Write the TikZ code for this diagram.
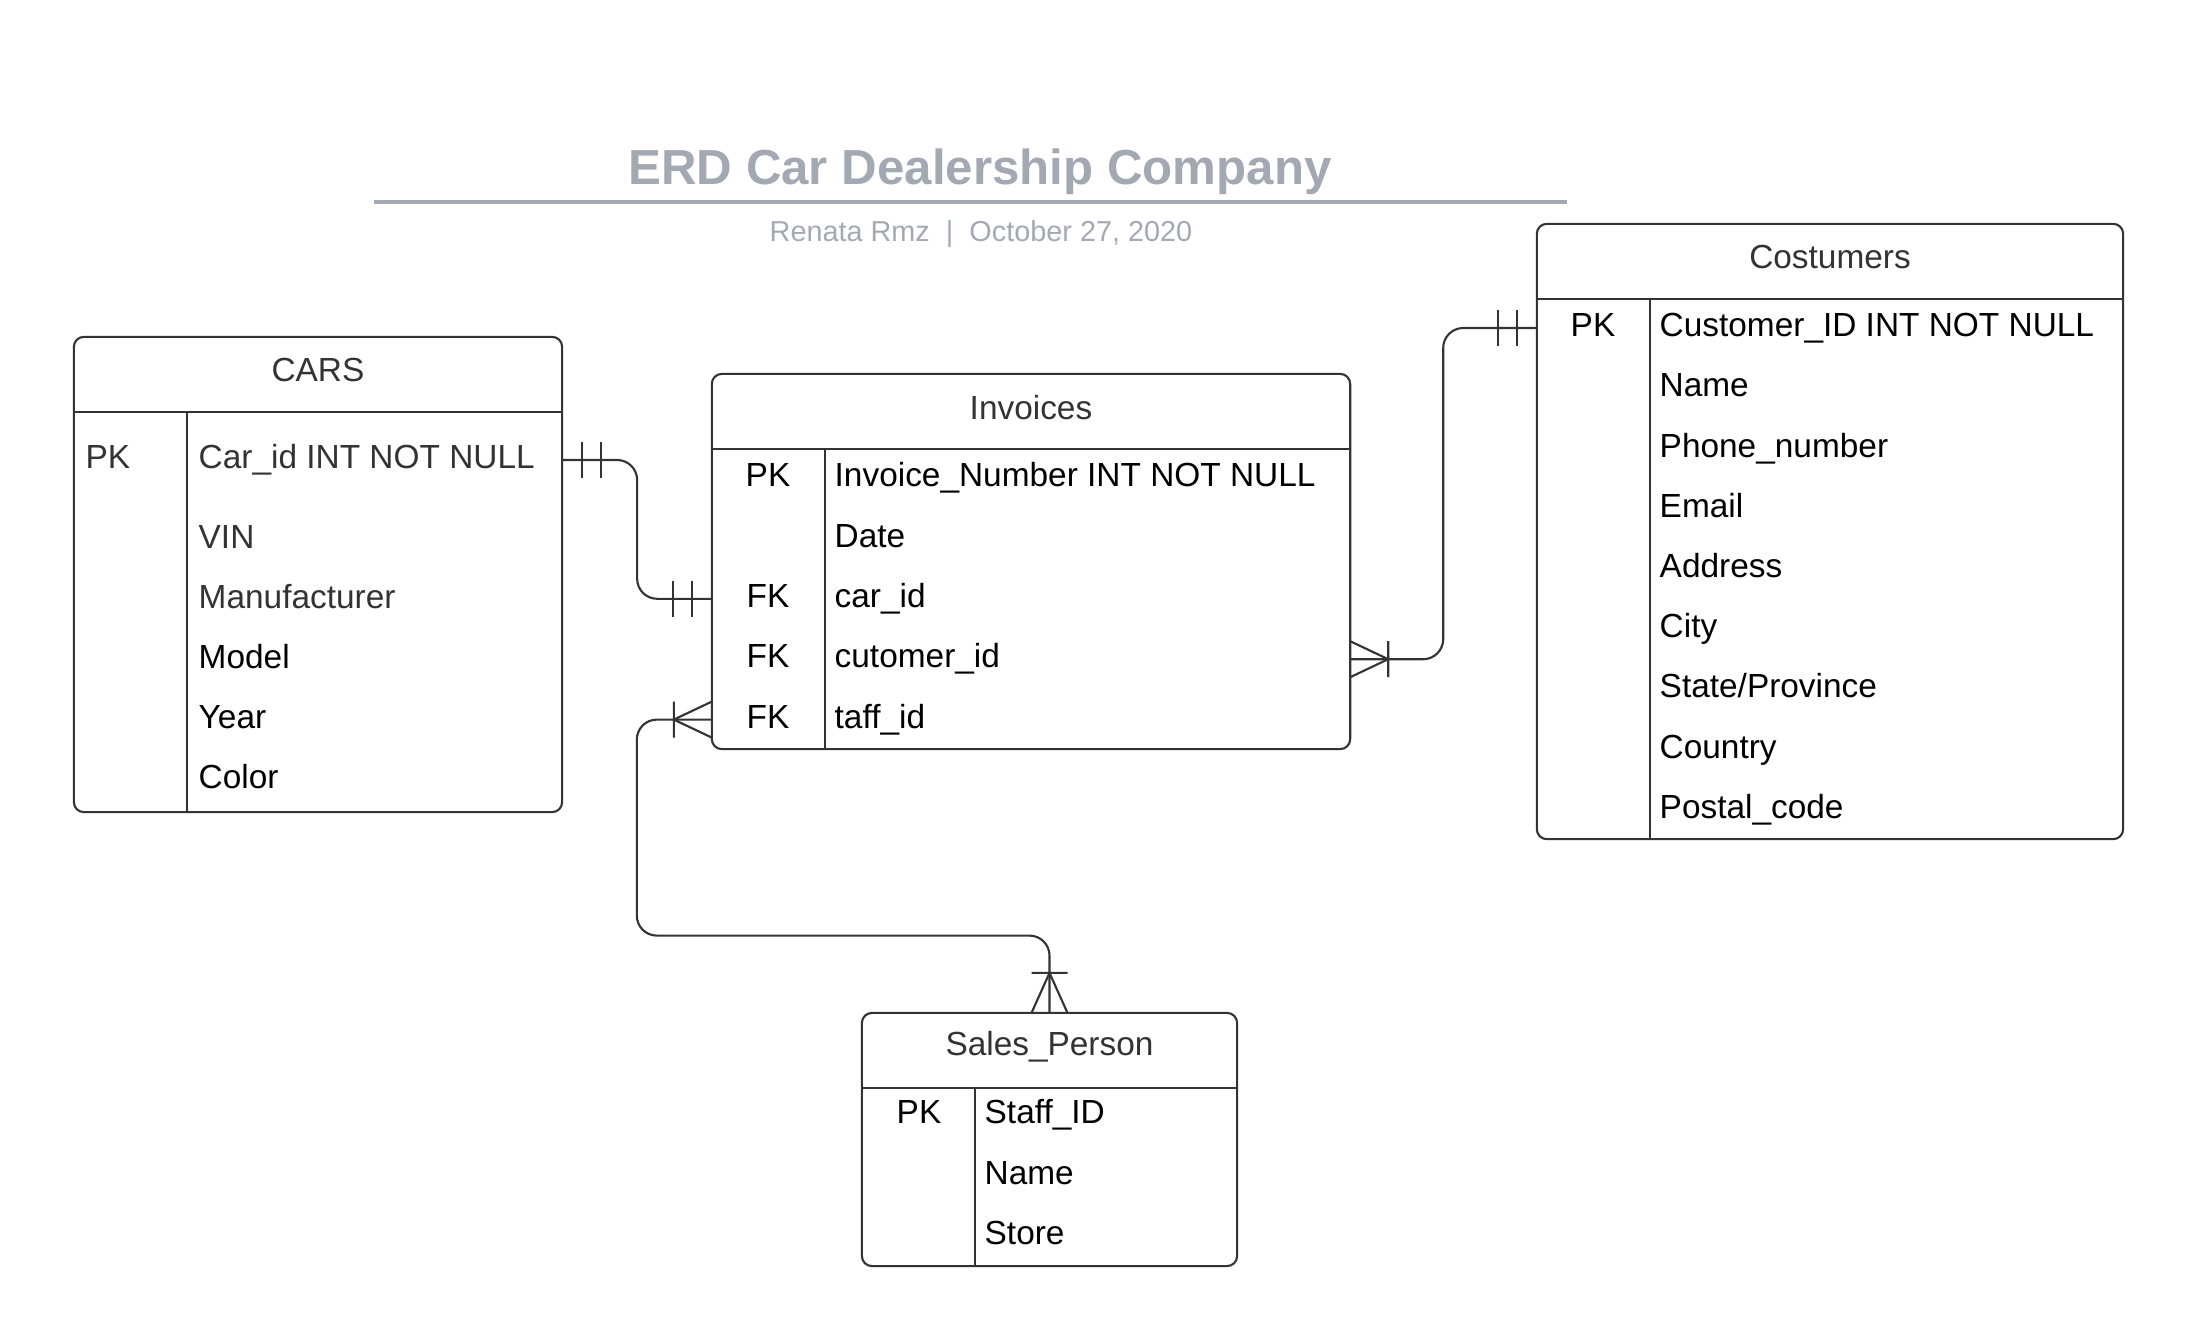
\documentclass[tikz,border=0pt]{standalone}
\usepackage{fontspec}
\setmainfont{Liberation Sans}
\usepackage{xcolor}
\usepackage{tikz}

\definecolor{titlegray}{HTML}{A3A9B3}
\definecolor{linegray}{HTML}{333333}
\definecolor{textgray}{HTML}{333333}

% header line and key column of a table
\newcommand{\tableframe}[1]{%
    \draw[tick] ([yshift=-0.75cm]#1.north west) -- ([yshift=-0.75cm]#1.north east);
    \draw[tick] ([xshift=1.13cm,yshift=-0.75cm]#1.north west) -- ([xshift=1.13cm]#1.south west);}
% one and only one (#2 = side, 1 or -1)
\newcommand{\onlyone}[2]{%
    \draw[tick] ([shift={(#2*20,-18)}]#1) -- ([shift={(#2*20,18)}]#1)
                ([shift={(#2*39,-18)}]#1) -- ([shift={(#2*39,18)}]#1);}
% one or many (#2 = side, 1 or -1)
\newcommand{\onemany}[2]{%
    \draw[tick] ([shift={(0,-18)}]#1) -- ([shift={(#2*38,0)}]#1) -- ([shift={(0,18)}]#1)
                ([shift={(#2*38,-18)}]#1) -- ([shift={(#2*38,18)}]#1);}

\begin{document}
\begin{tikzpicture}[x=0.01cm,y=-0.01cm]
        \useasboundingbox (0,0) rectangle (2199,1318);

        \tikzstyle{table}=[draw=linegray,line width=0.6pt,rounded corners=0.1cm,inner sep=0pt,outer sep=0pt]
        \tikzstyle{tabletitle}=[text=textgray,inner sep=0pt,font=\fontsize{9.5}{11}\selectfont]
        \tikzstyle{field}=[anchor=west,inner sep=0pt,text height=7pt,text depth=2pt,font=\fontsize{9.5}{11}\selectfont]
        \tikzstyle{keyfield}=[field,anchor=center]
        \tikzstyle{rel}=[draw=linegray,line width=0.6pt,rounded corners=0.2cm]
        \tikzstyle{tick}=[draw=linegray,line width=0.6pt]

        %% Title
        \node[text=titlegray,font=\bfseries\fontsize{14}{17}\selectfont] (title) at (980,172) {ERD Car Dealership Company};
        \draw[titlegray,line width=1.1pt] (374,202) -- (1567,202);
        \node[text=titlegray,font=\fontsize{8.2}{10}\selectfont] (subtitle) at (981,234) {Renata Rmz\ \ |\ \ October 27, 2020};

        %% CARS
        \node[table,minimum width=4.88cm,minimum height=4.75cm] (cars) at (318,574.5) {};
        \tableframe{cars}
        \node[tabletitle] (cars-title) at ([yshift=-0.335cm]cars.north) {CARS};
        \node[field,text=textgray] (cars-pk) at (85,460) {PK};
        \node[field,text=textgray] (cars-id) at (198,460) {Car\_id INT NOT NULL};
        \foreach \f/\c [count=\i] in {VIN/textgray,Manufacturer/textgray,Model/black,Year/black,Color/black}
            \node[field,text=\c] (cars-\i) at (198,{540+60*(\i-1)}) {\f};

        %% Invoices
        \node[table,minimum width=6.38cm,minimum height=3.75cm] (inv) at (1031,561.5) {};
        \tableframe{inv}
        \node[tabletitle] (inv-title) at ([yshift=-0.335cm]inv.north) {Invoices};
        \foreach \f [count=\i] in {Invoice\_Number INT NOT NULL,Date,car\_id,cutomer\_id,taff\_id}
            \node[field] (inv-\i) at (834,{478+60.4*(\i-1)}) {\f};
        \foreach \k/\i in {PK/1,FK/3,FK/4,FK/5}
            \node[keyfield] (inv-key-\i) at (768,{478+60.4*(\i-1)}) {\k};

        %% Costumers
        \node[table,minimum width=5.86cm,minimum height=6.15cm] (cus) at (1830,531.5) {};
        \tableframe{cus}
        \node[tabletitle] (cus-title) at ([yshift=-0.335cm]cus.north) {Costumers};
        \foreach \f [count=\i] in {Customer\_ID INT NOT NULL,Name,Phone\_number,Email,Address,City,State/Province,Country,Postal\_code}
            \node[field] (cus-\i) at (1659,{328+60.2*(\i-1)}) {\f};
        \node[keyfield] (cus-pk) at (1593,328) {PK};

        %% Sales_Person
        \node[table,minimum width=3.75cm,minimum height=2.53cm] (sales) at (1049.5,1139.5) {};
        \tableframe{sales}
        \node[tabletitle] (sales-title) at ([yshift=-0.335cm]sales.north) {Sales\_Person};
        \foreach \f [count=\i] in {Staff\_ID,Name,Store}
            \node[field] (sales-\i) at (984,{1115+60.5*(\i-1)}) {\f};
        \node[keyfield] (sales-pk) at (919,1115) {PK};

        %% Relations
        \coordinate (carsA) at (cars.east |- cars-id.west);
        \coordinate (invA) at (inv.west |- inv-3.west);
        \coordinate (invB) at (inv.east |- inv-4.west);
        \coordinate (invC) at (inv.west |- inv-5.west);
        \coordinate (cusA) at (cus.west |- cus-1.west);

        % CARS -- Invoices
        \draw[rel] (carsA) -- ++(75,0) |- (invA);
        \onlyone{carsA}{1}
        \onlyone{invA}{-1}

        % Invoices -- Costumers
        \draw[rel] (invB) -- ++(93,0) |- (cusA);
        \onemany{invB}{1}
        \onlyone{cusA}{-1}

        % Invoices -- Sales_Person
        \draw[rel] (invC) -- ++(-75,0) -- ++(0,216) -| (sales.north);
        \onemany{invC}{-1}
        \draw[tick] ([shift={(-18,0)}]sales.north) -- ([shift={(0,-40)}]sales.north) -- ([shift={(18,0)}]sales.north)
                    ([shift={(-18,-40)}]sales.north) -- ([shift={(18,-40)}]sales.north);

\end{tikzpicture}
\end{document}
